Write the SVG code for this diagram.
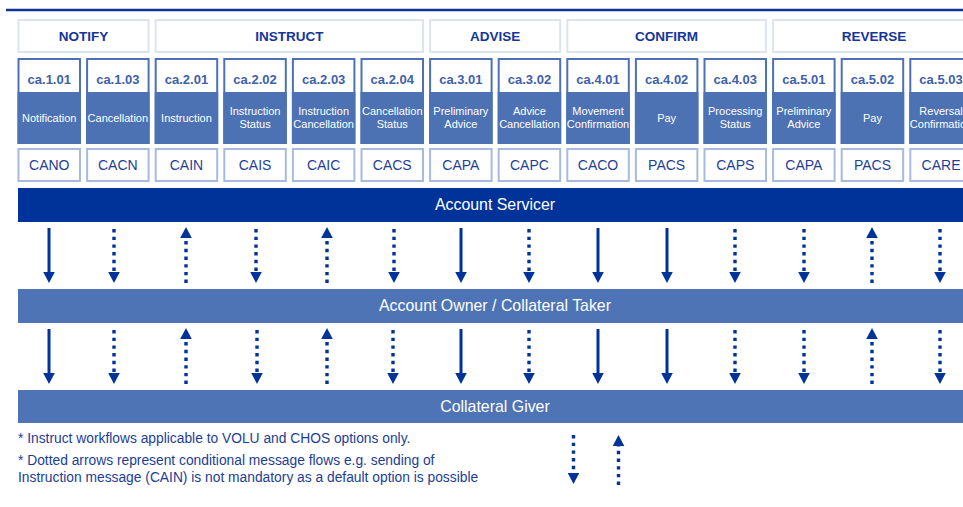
<svg xmlns="http://www.w3.org/2000/svg" width="963" height="507" viewBox="0 0 963 507">
<style>
text{font-family:"Liberation Sans",Arial,sans-serif}
.hdr rect{fill:#fff;stroke:#dde4f1;stroke-width:2}
.hdr text{font-size:13.5px;font-weight:bold;fill:#14359a;text-anchor:middle}
.msg .top{fill:#fff;stroke:#4c72b4;stroke-width:2}
.msg .mid{fill:#4c72b4}
.msg .code{fill:#fff;stroke:#a7badf;stroke-width:2}
.msg .id{font-size:13px;font-weight:bold;fill:#3d60aa;text-anchor:middle}
.msg .lbl{font-size:11px;fill:#fff;text-anchor:middle}
.msg .cd{font-size:14px;fill:#1f4099;text-anchor:middle}
.bar-dark{fill:#003399}
.bar-mid{fill:#4e74b5}
.bar text{font-size:15.9px;fill:#fff;text-anchor:middle}
.solid{stroke:#003399;stroke-width:3;fill:none}
.dot{stroke:#003399;stroke-width:3.4;stroke-dasharray:3.4 4.3;fill:none}
.note{font-size:13.8px;fill:#1c3d96}
</style>
<defs>
<marker id="ah" markerUnits="userSpaceOnUse" markerWidth="12" markerHeight="12" viewBox="0 -6 12 12" refX="0" refY="0" orient="auto">
<path d="M0,-5.8 L11,0 L0,5.8 z" fill="#003399"/>
</marker>
</defs>

<line x1="6" y1="10" x2="963" y2="10" stroke="#0f3494" stroke-width="2.5"/>

<g id="h-notify" class="hdr"><rect x="18.5" y="20" width="130" height="32"/><text x="83.5" y="41">NOTIFY</text></g>
<g id="h-instruct" class="hdr"><rect x="155.7" y="20" width="267.3" height="32"/><text x="289.3" y="41">INSTRUCT</text></g>
<g id="h-advise" class="hdr"><rect x="430.1" y="20" width="130.1" height="32"/><text x="495.1" y="41">ADVISE</text></g>
<g id="h-confirm" class="hdr"><rect x="567.3" y="20" width="198.6" height="32"/><text x="666.6" y="41">CONFIRM</text></g>
<g id="h-reverse" class="hdr"><rect x="773.1" y="20" width="198.7" height="32"/><text x="874" y="41">REVERSE</text></g>

<g id="m1" class="msg" transform="translate(17.5,0)"><rect class="top" x="1" y="59" width="61.5" height="84"/><rect class="mid" x="0" y="92" width="63.5" height="52"/><text class="id" x="31.75" y="83.5">ca.1.01</text><text class="lbl" x="31.75" y="122">Notification</text><rect class="code" x="1" y="149" width="61.5" height="32"/><text class="cd" x="31.75" y="170">CANO</text></g>
<g id="m2" class="msg" transform="translate(86.1,0)"><rect class="top" x="1" y="59" width="61.5" height="84"/><rect class="mid" x="0" y="92" width="63.5" height="52"/><text class="id" x="31.75" y="83.5">ca.1.03</text><text class="lbl" x="31.75" y="122">Cancellation</text><rect class="code" x="1" y="149" width="61.5" height="32"/><text class="cd" x="31.75" y="170">CACN</text></g>
<g id="m3" class="msg" transform="translate(154.7,0)"><rect class="top" x="1" y="59" width="61.5" height="84"/><rect class="mid" x="0" y="92" width="63.5" height="52"/><text class="id" x="31.75" y="83.5">ca.2.01</text><text class="lbl" x="31.75" y="122">Instruction</text><rect class="code" x="1" y="149" width="61.5" height="32"/><text class="cd" x="31.75" y="170">CAIN</text></g>
<g id="m4" class="msg" transform="translate(223.3,0)"><rect class="top" x="1" y="59" width="61.5" height="84"/><rect class="mid" x="0" y="92" width="63.5" height="52"/><text class="id" x="31.75" y="83.5">ca.2.02</text><text class="lbl" x="31.75" y="115">Instruction</text><text class="lbl" x="31.75" y="128">Status</text><rect class="code" x="1" y="149" width="61.5" height="32"/><text class="cd" x="31.75" y="170">CAIS</text></g>
<g id="m5" class="msg" transform="translate(291.9,0)"><rect class="top" x="1" y="59" width="61.5" height="84"/><rect class="mid" x="0" y="92" width="63.5" height="52"/><text class="id" x="31.75" y="83.5">ca.2.03</text><text class="lbl" x="31.75" y="115">Instruction</text><text class="lbl" x="31.75" y="128">Cancellation</text><rect class="code" x="1" y="149" width="61.5" height="32"/><text class="cd" x="31.75" y="170">CAIC</text></g>
<g id="m6" class="msg" transform="translate(360.5,0)"><rect class="top" x="1" y="59" width="61.5" height="84"/><rect class="mid" x="0" y="92" width="63.5" height="52"/><text class="id" x="31.75" y="83.5">ca.2.04</text><text class="lbl" x="31.75" y="115">Cancellation</text><text class="lbl" x="31.75" y="128">Status</text><rect class="code" x="1" y="149" width="61.5" height="32"/><text class="cd" x="31.75" y="170">CACS</text></g>
<g id="m7" class="msg" transform="translate(429.1,0)"><rect class="top" x="1" y="59" width="61.5" height="84"/><rect class="mid" x="0" y="92" width="63.5" height="52"/><text class="id" x="31.75" y="83.5">ca.3.01</text><text class="lbl" x="31.75" y="115">Preliminary</text><text class="lbl" x="31.75" y="128">Advice</text><rect class="code" x="1" y="149" width="61.5" height="32"/><text class="cd" x="31.75" y="170">CAPA</text></g>
<g id="m8" class="msg" transform="translate(497.7,0)"><rect class="top" x="1" y="59" width="61.5" height="84"/><rect class="mid" x="0" y="92" width="63.5" height="52"/><text class="id" x="31.75" y="83.5">ca.3.02</text><text class="lbl" x="31.75" y="115">Advice</text><text class="lbl" x="31.75" y="128">Cancellation</text><rect class="code" x="1" y="149" width="61.5" height="32"/><text class="cd" x="31.75" y="170">CAPC</text></g>
<g id="m9" class="msg" transform="translate(566.3,0)"><rect class="top" x="1" y="59" width="61.5" height="84"/><rect class="mid" x="0" y="92" width="63.5" height="52"/><text class="id" x="31.75" y="83.5">ca.4.01</text><text class="lbl" x="31.75" y="115">Movement</text><text class="lbl" x="31.75" y="128">Confirmation</text><rect class="code" x="1" y="149" width="61.5" height="32"/><text class="cd" x="31.75" y="170">CACO</text></g>
<g id="m10" class="msg" transform="translate(634.9,0)"><rect class="top" x="1" y="59" width="61.5" height="84"/><rect class="mid" x="0" y="92" width="63.5" height="52"/><text class="id" x="31.75" y="83.5">ca.4.02</text><text class="lbl" x="31.75" y="122">Pay</text><rect class="code" x="1" y="149" width="61.5" height="32"/><text class="cd" x="31.75" y="170">PACS</text></g>
<g id="m11" class="msg" transform="translate(703.5,0)"><rect class="top" x="1" y="59" width="61.5" height="84"/><rect class="mid" x="0" y="92" width="63.5" height="52"/><text class="id" x="31.75" y="83.5">ca.4.03</text><text class="lbl" x="31.75" y="115">Processing</text><text class="lbl" x="31.75" y="128">Status</text><rect class="code" x="1" y="149" width="61.5" height="32"/><text class="cd" x="31.75" y="170">CAPS</text></g>
<g id="m12" class="msg" transform="translate(772.1,0)"><rect class="top" x="1" y="59" width="61.5" height="84"/><rect class="mid" x="0" y="92" width="63.5" height="52"/><text class="id" x="31.75" y="83.5">ca.5.01</text><text class="lbl" x="31.75" y="115">Preliminary</text><text class="lbl" x="31.75" y="128">Advice</text><rect class="code" x="1" y="149" width="61.5" height="32"/><text class="cd" x="31.75" y="170">CAPA</text></g>
<g id="m13" class="msg" transform="translate(840.7,0)"><rect class="top" x="1" y="59" width="61.5" height="84"/><rect class="mid" x="0" y="92" width="63.5" height="52"/><text class="id" x="31.75" y="83.5">ca.5.02</text><text class="lbl" x="31.75" y="122">Pay</text><rect class="code" x="1" y="149" width="61.5" height="32"/><text class="cd" x="31.75" y="170">PACS</text></g>
<g id="m14" class="msg" transform="translate(909.3,0)"><rect class="top" x="1" y="59" width="61.5" height="84"/><rect class="mid" x="0" y="92" width="63.5" height="52"/><text class="id" x="31.75" y="83.5">ca.5.03</text><text class="lbl" x="31.75" y="115">Reversal</text><text class="lbl" x="31.75" y="128">Confirmation</text><rect class="code" x="1" y="149" width="61.5" height="32"/><text class="cd" x="31.75" y="170">CARE</text></g>

<g id="account-servicer" class="bar"><rect class="bar-dark" x="18" y="188" width="945" height="34"/><text x="495" y="210">Account Servicer</text></g>
<g id="account-owner" class="bar"><rect class="bar-mid" x="18" y="289" width="945" height="34"/><text x="495" y="311">Account Owner / Collateral Taker</text></g>
<g id="collateral-giver" class="bar"><rect class="bar-mid" x="18" y="390" width="945" height="33"/><text x="495" y="412">Collateral Giver</text></g>

<g id="connectors">
<line class="solid" x1="49" y1="228" x2="49" y2="272" marker-end="url(#ah)"/>
<line class="dot" x1="114" y1="229" x2="114" y2="272" marker-end="url(#ah)"/>
<line class="dot" x1="186" y1="283" x2="186" y2="238" marker-end="url(#ah)"/>
<line class="dot" x1="256" y1="229" x2="256" y2="272" marker-end="url(#ah)"/>
<line class="dot" x1="327" y1="283" x2="327" y2="238" marker-end="url(#ah)"/>
<line class="dot" x1="394" y1="229" x2="394" y2="272" marker-end="url(#ah)"/>
<line class="solid" x1="461" y1="228" x2="461" y2="272" marker-end="url(#ah)"/>
<line class="dot" x1="529" y1="229" x2="529" y2="272" marker-end="url(#ah)"/>
<line class="solid" x1="598" y1="228" x2="598" y2="272" marker-end="url(#ah)"/>
<line class="solid" x1="667" y1="228" x2="667" y2="272" marker-end="url(#ah)"/>
<line class="dot" x1="735" y1="229" x2="735" y2="272" marker-end="url(#ah)"/>
<line class="dot" x1="804" y1="229" x2="804" y2="272" marker-end="url(#ah)"/>
<line class="dot" x1="872" y1="283" x2="872" y2="238" marker-end="url(#ah)"/>
<line class="dot" x1="940" y1="229" x2="940" y2="272" marker-end="url(#ah)"/>

<line class="solid" x1="49" y1="329" x2="49" y2="373" marker-end="url(#ah)"/>
<line class="dot" x1="114" y1="330" x2="114" y2="373" marker-end="url(#ah)"/>
<line class="dot" x1="186" y1="384" x2="186" y2="339" marker-end="url(#ah)"/>
<line class="dot" x1="257" y1="330" x2="257" y2="373" marker-end="url(#ah)"/>
<line class="dot" x1="327" y1="384" x2="327" y2="339" marker-end="url(#ah)"/>
<line class="dot" x1="393" y1="330" x2="393" y2="373" marker-end="url(#ah)"/>
<line class="solid" x1="461" y1="329" x2="461" y2="373" marker-end="url(#ah)"/>
<line class="dot" x1="529" y1="330" x2="529" y2="373" marker-end="url(#ah)"/>
<line class="solid" x1="598" y1="329" x2="598" y2="373" marker-end="url(#ah)"/>
<line class="solid" x1="667" y1="329" x2="667" y2="373" marker-end="url(#ah)"/>
<line class="dot" x1="735" y1="330" x2="735" y2="373" marker-end="url(#ah)"/>
<line class="dot" x1="804" y1="330" x2="804" y2="373" marker-end="url(#ah)"/>
<line class="dot" x1="872" y1="384" x2="872" y2="339" marker-end="url(#ah)"/>
<line class="dot" x1="940" y1="330" x2="940" y2="373" marker-end="url(#ah)"/>

<line class="dot" x1="573.5" y1="435" x2="573.5" y2="473" marker-end="url(#ah)"/>
<line class="dot" x1="618.5" y1="485" x2="618.5" y2="446" marker-end="url(#ah)"/>
</g>

<g id="notes">
<text class="note" x="18" y="443">* Instruct workflows applicable to VOLU and CHOS options only.</text>
<text class="note" x="18" y="465">* Dotted arrows represent conditional message flows e.g. sending of</text>
<text class="note" x="18" y="482">Instruction message (CAIN) is not mandatory as a default option is possible</text>
</g>
</svg>
